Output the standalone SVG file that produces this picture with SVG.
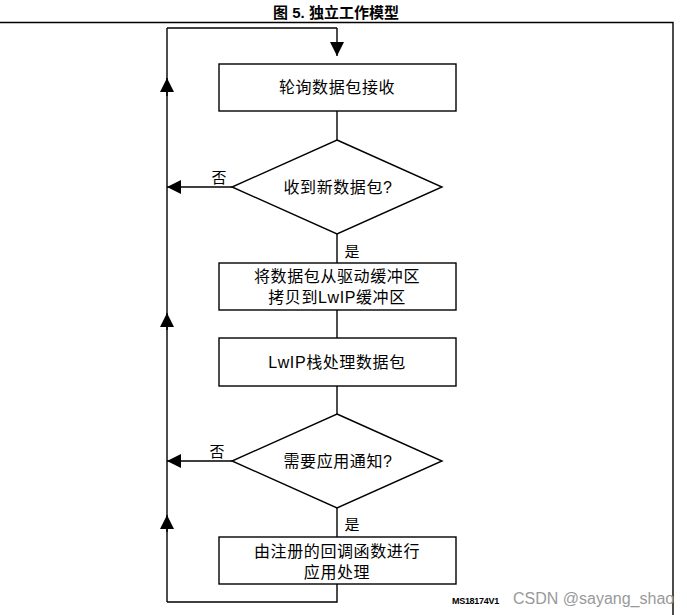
<svg xmlns="http://www.w3.org/2000/svg" width="687" height="615" viewBox="0 0 687 615">
<defs>
<style>
.ln{fill:none;stroke:#000;stroke-width:1.4}
.nd{fill:#fff;stroke:#000;stroke-width:1.4}
.t{font-family:"Liberation Sans","Noto Sans CJK SC",sans-serif;font-size:16px;fill:#000;text-anchor:middle;letter-spacing:0.6px}
.lb{font-family:"Liberation Sans","Noto Sans CJK SC",sans-serif;font-size:15px;fill:#000;text-anchor:middle}
</style>
<marker id="ah" viewBox="0 0 10 10" refX="10" refY="5" markerWidth="14" markerHeight="14" markerUnits="userSpaceOnUse" orient="auto">
<path d="M0,0 L10,5 L0,10 Z" fill="#000"/>
</marker>
</defs>
<rect width="687" height="615" fill="#fff"/>
<text x="336" y="18" font-family="Liberation Sans,'Noto Sans CJK SC',sans-serif" font-size="15" font-weight="bold" text-anchor="middle">图 5. 独立工作模型</text>
<path d="M0,22.5 H673 V615" class="ln" stroke-width="1.3"/>
<g id="connectors">
<path d="M337,28 V56" class="ln" marker-end="url(#ah)"/>
<path d="M167,28 H337" class="ln"/>
<path d="M167,602 V28" class="ln"/>
<path d="M167,96 V78" class="ln" marker-end="url(#ah)"/>
<path d="M167,330 V313" class="ln" marker-end="url(#ah)"/>
<path d="M167,532 V515" class="ln" marker-end="url(#ah)"/>
<path d="M337,111 V140" class="ln"/>
<path d="M232,187 H167" class="ln" marker-end="url(#ah)"/>
<path d="M337,234 V263" class="ln"/>
<path d="M337,310 V338" class="ln"/>
<path d="M337,386 V414" class="ln"/>
<path d="M232,461 H167" class="ln" marker-end="url(#ah)"/>
<path d="M337,508 V537" class="ln"/>
<path d="M337,584 V602 H167" class="ln"/>
<text x="219" y="183" class="lb">否</text>
<text x="217" y="457" class="lb">否</text>
<text x="352" y="257" class="lb">是</text>
<text x="352" y="530" class="lb">是</text>
</g>
<g id="n1">
<rect x="219" y="64" width="237" height="47" class="nd"/>
<text x="337" y="93" class="t">轮询数据包接收</text>
</g>
<g id="d1">
<polygon points="337,140 442,187 337,234 232,187" class="nd"/>
<text x="338" y="193" class="t">收到新数据包?</text>
</g>
<g id="n2">
<rect x="219" y="263" width="237" height="47" class="nd"/>
<text x="337" y="282" class="t">将数据包从驱动缓冲区</text>
<text x="337" y="303" class="t">拷贝到LwIP缓冲区</text>
</g>
<g id="n3">
<rect x="219" y="338" width="237" height="48" class="nd"/>
<text x="337" y="368" class="t">LwIP栈处理数据包</text>
</g>
<g id="d2">
<polygon points="337,414 442,461 337,508 232,461" class="nd"/>
<text x="338" y="467" class="t">需要应用通知?</text>
</g>
<g id="n4">
<rect x="219" y="537" width="237" height="47" class="nd"/>
<text x="337" y="557" class="t">由注册的回调函数进行</text>
<text x="337" y="578" class="t">应用处理</text>
</g>
<text x="452" y="604" font-family="Liberation Sans,sans-serif" font-size="9" font-weight="bold" letter-spacing="-0.3">MS18174V1</text>
<text x="513" y="604" font-family="Liberation Sans,sans-serif" font-size="16" fill="#999">CSDN @sayang_shao</text>
</svg>
